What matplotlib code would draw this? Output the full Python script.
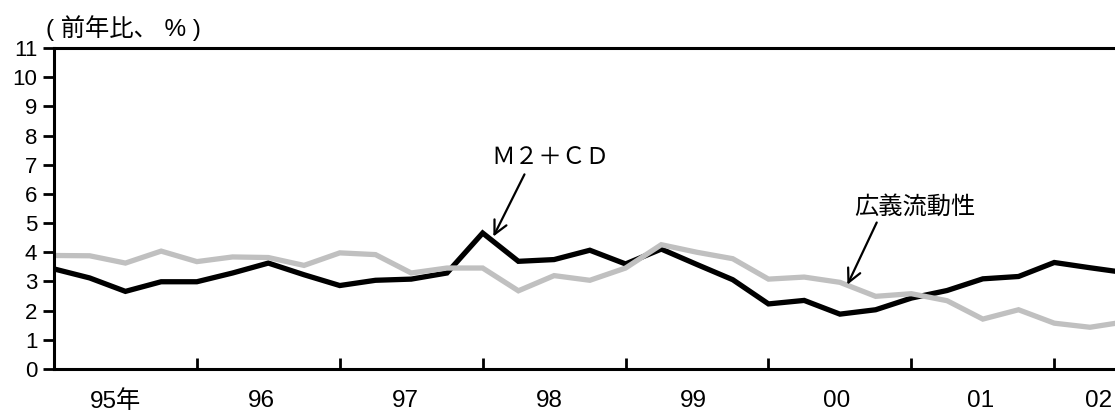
import matplotlib
matplotlib.use('Agg')
import matplotlib.pyplot as plt
import numpy as np

plt.rcParams['font.family'] = ['Liberation Sans', 'Noto Sans CJK JP']

# quarterly, 95Q1 .. 02Q3 (y/y %)
m2cd = [3.43, 3.12, 2.66, 2.99, 2.99, 3.29, 3.63, 3.23,
        2.86, 3.04, 3.08, 3.29, 4.66, 3.69, 3.75, 4.07,
        3.60, 4.11, 3.58, 3.06, 2.23, 2.35, 1.88, 2.03,
        2.43, 2.69, 3.09, 3.17, 3.65, 3.47, 3.30]
liquidity = [3.89, 3.88, 3.63, 4.04, 3.68, 3.84, 3.82, 3.55,
             3.98, 3.92, 3.29, 3.46, 3.46, 2.68, 3.20, 3.04,
             3.46, 4.26, 4.00, 3.78, 3.08, 3.15, 2.97, 2.49,
             2.58, 2.34, 1.71, 2.03, 1.57, 1.43, 1.62]
years = ['95年', '96', '97', '98', '99', '00', '01', '02']
year_label_pos = [1.72, 5.8, 9.83, 13.87, 17.9, 21.9, 25.94, 29.25]

x = np.arange(len(m2cd))

fig = plt.figure(figsize=(11.15, 4.12), dpi=100)
ax = fig.add_axes([0.0484, 0.1044, 0.9516, 0.7790])

ax.plot(x, m2cd, color='black', lw=3.8, solid_joinstyle='miter')
ax.plot(x, liquidity, color='#c0c0c0', lw=3.8, solid_joinstyle='miter')

ax.set_xlim(0, 29.7)
ax.set_ylim(0, 11)
ax.set_yticks(range(0, 12))
ax.tick_params(axis='y', direction='out', length=8, width=2, labelsize=16, pad=4)

# year boundaries as ticks, labels in between
ax.set_xticks(np.arange(4, 30, 4))
ax.set_xticklabels([])
ax.tick_params(axis='x', which='major', direction='in', length=8, width=2)
ax.set_xticks(year_label_pos, minor=True)
ax.set_xticklabels(years, minor=True)
ax.tick_params(axis='x', which='minor', length=0, labelsize=17.5, pad=15)

for s in ['left', 'bottom', 'top']:
    ax.spines[s].set_linewidth(2.2)
ax.spines['right'].set_visible(False)

fig.text(0.041, 0.933, '( 前年比、 % )', fontsize=17.5, va='center', ha='left')

ax.annotate('', xy=(12.30, 4.54), xytext=(13.17, 6.67),
            arrowprops=dict(arrowstyle='->', lw=1.6, color='black',
                            mutation_scale=24, shrinkA=0, shrinkB=0))
ax.text(13.9, 7.25, 'Ｍ２＋ＣＤ', fontsize=17, family=['Noto Sans CJK JP'],
        ha='center', va='center')
ax.annotate('', xy=(22.21, 2.89), xytext=(23.03, 5.02),
            arrowprops=dict(arrowstyle='->', lw=1.6, color='black',
                            mutation_scale=24, shrinkA=0, shrinkB=0))
ax.text(24.1, 5.57, '広義流動性', fontsize=17.5, family=['Noto Sans CJK JP'],
        ha='center', va='center')

fig.savefig('out.png', dpi=100)
